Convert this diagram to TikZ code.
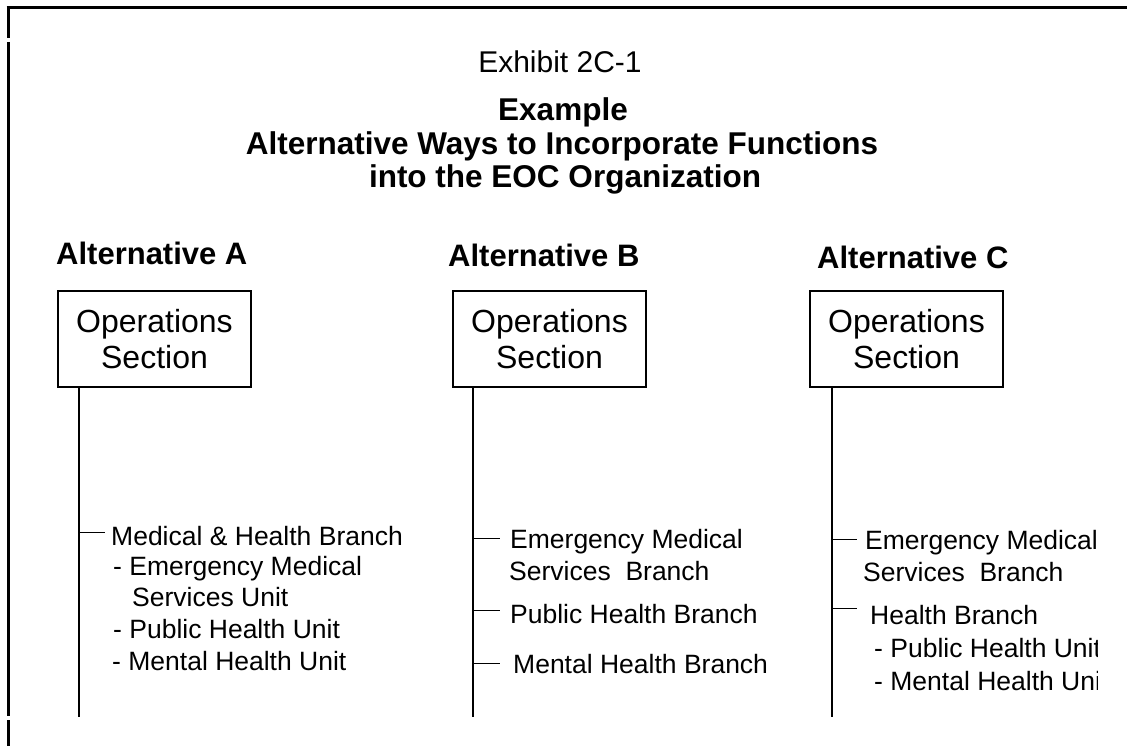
\documentclass[tikz,border=0pt]{standalone}
\usepackage{fontspec}
\setmainfont{Liberation Sans}
\begin{document}
\begin{tikzpicture}[x=1pt,y=-1pt,
  opbox/.style={draw,line width=2pt,minimum width=193pt,minimum height=96pt,inner sep=0pt,align=center,
    font=\fontsize{32}{36}\selectfont},
  alt/.style={anchor=base west,inner sep=0pt,font=\bfseries\fontsize{31}{36}\selectfont},
  ttl/.style={anchor=base,inner sep=0pt,font=\bfseries\fontsize{31.5}{36}\selectfont},
  br/.style={anchor=base west,inner sep=0pt,font=\fontsize{26.5}{31}\selectfont},
  vline/.style={line width=1.3pt},
  tick/.style={line width=1pt},
  frame/.style={line width=3pt}]
\useasboundingbox (0,0) rectangle (1127,746);
% frame
\coordinate (f0) at (8,8);
\coordinate (f1) at (1127,8);
\coordinate (l1) at (8,38);
\coordinate (l2) at (8,42);
\coordinate (l3) at (8,716);
\coordinate (l4) at (8,720);
\coordinate (l5) at (8,746);
\draw[frame] (6.5,8) -- (f1);
\draw[frame] (f0) -- (l1);
\draw[frame] (l2) -- (l3);
\draw[frame] (l4) -- (l5);
% titles
\node[anchor=base,inner sep=0pt,font=\fontsize{30}{36}\selectfont] (exh) at (560,73) {Exhibit 2C-1};
\node[ttl] (t1) at (563,121) {Example};
\node[ttl] (t2) at (562,155) {Alternative Ways to Incorporate Functions};
\node[ttl] (t3) at (565,188) {into the EOC Organization};
% alternative labels
\node[alt] (altA) at (56,264) {Alternative A};
\node[alt] (altB) at (448,266) {Alternative B};
\node[alt] (altC) at (817,269) {Alternative C};
% boxes
\node[opbox] (boxA) at (154.5,339) {Operations\\Section};
\node[opbox] (boxB) at (549.5,339) {Operations\\Section};
\node[opbox] (boxC) at (906.5,339) {Operations\\Section};
% column A
\coordinate (aT) at (79,387);
\coordinate (aB) at (79,717);
\draw[vline] (aT) -- (aB);
\node[br] (a1) at (111,545) {Medical \& Health Branch};
\node[br] (a2) at (113,575) {- Emergency Medical};
\node[br] (a3) at (132,606) {Services Unit};
\node[br] (a4) at (113,638) {- Public Health Unit};
\node[br] (a5) at (112,670) {- Mental Health Unit};
\coordinate (aK1) at (79,532);
\coordinate (aK1e) at (105,532);
\draw[tick] (aK1) -- (aK1e);
% column B
\coordinate (bT) at (473,387);
\coordinate (bB) at (473,717);
\draw[vline] (bT) -- (bB);
\node[br] (b1) at (510,548) {Emergency Medical};
\node[br] (b1b) at (509,580) {Services~ Branch};
\node[br] (b2) at (510,623) {Public Health Branch};
\node[br] (b3) at (513,673) {Mental Health Branch};
\coordinate (bK1) at (473,538);
\coordinate (bK1e) at (500,538);
\coordinate (bK2) at (473,610);
\coordinate (bK2e) at (500,610);
\coordinate (bK3) at (473,663);
\coordinate (bK3e) at (500,663);
\draw[tick] (bK1) -- (bK1e);
\draw[tick] (bK2) -- (bK2e);
\draw[tick] (bK3) -- (bK3e);
% column C
\coordinate (cT) at (832,387);
\coordinate (cB) at (832,717);
\draw[vline] (cT) -- (cB);
\begin{scope}
\clip (820,500) rectangle (1097,720);
\node[br] (c1) at (865,549) {Emergency Medical};
\node[br] (c1b) at (863,581) {Services~ Branch};
\node[br] (c2) at (870,624) {Health Branch};
\node[br] (c3) at (874,657) {- Public Health Unit};
\node[br] (c4) at (874,690) {- Mental Health Unit};
\end{scope}
\coordinate (cK1) at (832,539);
\coordinate (cK1e) at (857,539);
\coordinate (cK2) at (832,608);
\coordinate (cK2e) at (857,608);
\draw[tick] (cK1) -- (cK1e);
\draw[tick] (cK2) -- (cK2e);
\end{tikzpicture}
\end{document}
